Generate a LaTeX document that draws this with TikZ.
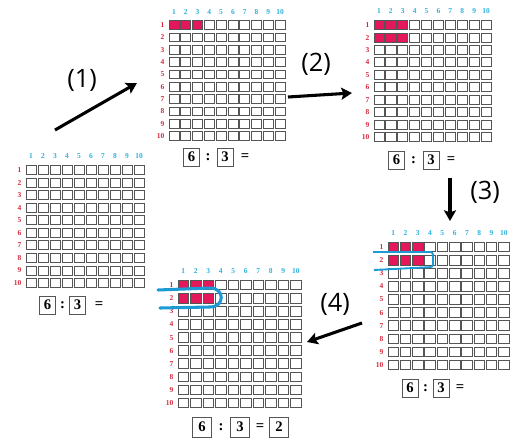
\documentclass[tikz,border=0pt]{standalone}
\usepackage{fontspec}
\usetikzlibrary{arrows.meta}
\newfontfamily\labserif{Liberation Serif}
\newfontfamily\parsans{Open Sans}
\definecolor{myred}{HTML}{E5175B}
\definecolor{rowred}{HTML}{D8283C}
\definecolor{colblue}{HTML}{2BB2DC}
\definecolor{loopblue}{HTML}{1B9AD3}
\definecolor{cellgray}{HTML}{555555}
\tikzset{
  collab/.style={font=\labserif\bfseries\fontsize{5.6}{6}\selectfont, text=colblue, inner sep=0pt, anchor=base},
  rowlab/.style={font=\labserif\bfseries\fontsize{5.6}{6}\selectfont, text=rowred, inner sep=0pt, anchor=base east},
  cellbox/.style={draw=cellgray, line width=0.55pt},
  eqbox/.style={draw=cellgray, line width=0.5pt, minimum width=12pt, minimum height=13.5pt, inner sep=0pt, font=\labserif\bfseries\fontsize{11}{12}\selectfont},
  eqsym/.style={inner sep=0pt, font=\labserif\bfseries\fontsize{11}{12}\selectfont},
  steparrow/.style={line width=2.3pt, -{Stealth[length=8pt,width=9pt,inset=1.5pt]}},
  steplab/.style={font=\parsans\fontsize{19}{20}\selectfont, inner sep=0pt},
  loopthin/.style={draw=loopblue, line width=1.4pt, rounded corners=2pt},
  loopthick/.style={draw=loopblue, line width=2.3pt, line cap=round},
}
% #1 prefix, #2 x0 (left edge), #3 y of row-1 centre, #4 x pitch, #5 y pitch, #6 red rows
\newcommand\cellgrid[6]{%
  \foreach \i in {1,...,10}{%
    \node[collab] (#1c\i) at ({#2+(\i-0.5)*#4},{#3-1.1*#5+2.6}) {\i};
    \node[rowlab] (#1r\i) at ({#2-3.5},{#3+(\i-1)*#5+2.6}) {\i};
    \foreach \j in {1,...,10}{%
      \ifnum\i<4 \ifnum\j>#6 \def\cf{white}\else\def\cf{myred}\fi\else\def\cf{white}\fi
      \draw[cellbox, fill=\cf] ({#2+(\i-1)*#4+0.9},{#3+(\j-1)*#5-(#5-3.5)/2}) rectangle ++({#4-1.8},{#5-3.5});
    }%
  }%
}
\begin{document}
\begin{tikzpicture}[x=0.75pt,y=-0.75pt]
\useasboundingbox (0,0) rectangle (510,441);
\fill[white] (0,0) rectangle (510,441);

% grids
\cellgrid{ga}{25}{170}{12}{12.55}{0}
\cellgrid{gb}{168}{25}{11.8}{12.33}{1}
\cellgrid{gc}{373}{25}{11.9}{12.44}{2}
\cellgrid{gd}{387}{247}{12.3}{13.1}{2}
\cellgrid{ge}{177}{285}{12.5}{13.1}{2}

% equations
\node[eqbox] (ea6) at (47.5,305) {6};
\node[eqsym] (eac) at (62.5,305) {:};
\node[eqbox] (ea3) at (77.5,305) {3};
\node[eqsym] (eaq) at (99,305) {=};

\node[eqbox] (eb6) at (191.5,157) {6};
\node[eqsym] (ebc) at (208,157) {:};
\node[eqbox] (eb3) at (225,157) {3};
\node[eqsym] (ebq) at (245,157) {=};

\node[eqbox] (ec6) at (396.5,160) {6};
\node[eqsym] (ecc) at (413.5,160) {:};
\node[eqbox] (ec3) at (431,160) {3};
\node[eqsym] (ecq) at (451,160) {=};

\node[eqbox] (ed6) at (410,388) {6};
\node[eqsym] (edc) at (425.5,388) {:};
\node[eqbox] (ed3) at (441,388) {3};
\node[eqsym] (edq) at (460,388) {=};

\node[eqbox, minimum width=14.5pt, minimum height=15pt] (ee6) at (202,427) {6};
\node[eqsym] (eec) at (221,427) {:};
\node[eqbox, minimum width=14.5pt, minimum height=15pt] (ee3) at (240,427) {3};
\node[eqsym] (eeq) at (260,427) {=};
\node[eqbox, minimum width=14.5pt, minimum height=15pt] (ee2) at (279,427) {2};

% blue loops
\draw[loopthin] (373,252) -- (433,252) -- (433,267) -- (374,270);
\draw[loopthick] (158,290) -- (210,288) .. controls (225,288) and (225,307) .. (210,307) -- (160,308);

% step arrows
\coordinate (a1s) at (55,130);
\coordinate (a1e) at (137,83);
\coordinate (a2s) at (288,97);
\coordinate (a2e) at (352,93);
\coordinate (a3s) at (450,178);
\coordinate (a3e) at (450,221);
\coordinate (a4s) at (362,323);
\coordinate (a4e) at (307,342);
\draw[steparrow] (a1s) -- (a1e);
\draw[steparrow] (a2s) -- (a2e);
\draw[steparrow] (a3s) -- (a3e);
\draw[steparrow] (a4s) -- (a4e);
\node[steplab] (l1) at (82,80) {(1)};
\node[steplab] (l2) at (316,64) {(2)};
\node[steplab] (l3) at (485,192) {(3)};
\node[steplab] (l4) at (335,304) {(4)};
\end{tikzpicture}
\end{document}
